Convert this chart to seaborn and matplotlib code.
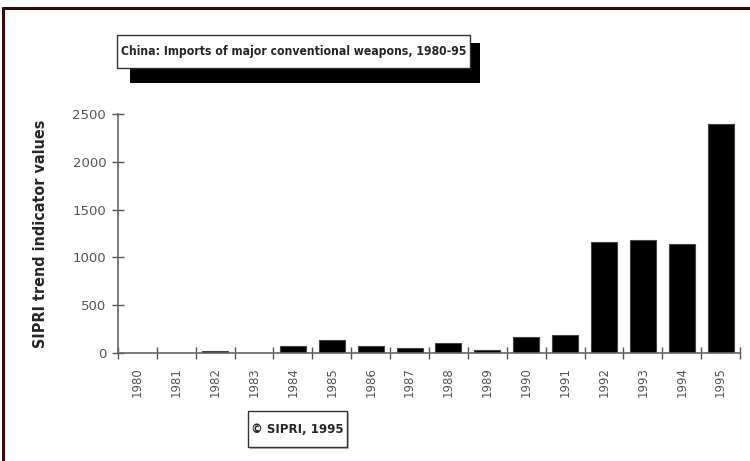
import matplotlib
matplotlib.use("Agg")
import matplotlib.pyplot as plt
import seaborn as sns
import pandas as pd
from matplotlib.lines import Line2D
from matplotlib.patches import Rectangle

years = ['1980', '1981', '1982', '1983', '1984', '1985', '1986', '1987',
         '1988', '1989', '1990', '1991', '1992', '1993', '1994', '1995']
values = [0, 0, 20, 0, 70, 140, 75, 55, 105, 35, 165, 190, 1160, 1185, 1135, 2400]
yticks = [0, 500, 1000, 1500, 2000, 2500]

title = 'China: Imports of major conventional weapons, 1980-95'
ylabel = 'SIPRI trend indicator values'
credit = '\u00a9 SIPRI, 1995'

df = pd.DataFrame({'year': years, 'value': values})

sns.set_style('white')
plt.rcParams['font.family'] = ['DejaVu Sans']

fig = plt.figure(figsize=(7.5, 4.61), dpi=100)
ax = fig.add_axes([0.1573, 0.2343, 0.8294, 0.5184])

sns.barplot(data=df, x='year', y='value', color='black', width=0.67,
            edgecolor='#444444', linewidth=0.8, saturation=1, ax=ax)

ax.set_xlim(-0.5, len(years) - 0.5)
ax.set_ylim(0, 2500)
ax.set_yticks(yticks)
ax.set_yticklabels([str(t) for t in yticks], fontsize=9.5, color='#555555')
ax.set_xticks(range(len(years)))
ax.set_xticklabels(years, rotation=90, fontsize=8.5, color='#555555')
ax.set_xticks([i - 0.5 for i in range(len(years) + 1)], minor=True)
ax.tick_params(bottom=True, left=True, which='both')
ax.tick_params(axis='x', which='major', length=0, pad=10)
ax.tick_params(axis='x', which='minor', direction='inout', length=9, width=1, color='#555555')
ax.tick_params(axis='y', which='major', direction='inout', length=9, width=1, color='#555555', pad=4)

for side in ['top', 'right']:
    ax.spines[side].set_visible(False)
for side in ['left', 'bottom']:
    ax.spines[side].set_color('#666666')
    ax.spines[side].set_linewidth(1.2)

ax.set_xlabel('')
ax.set_ylabel(ylabel, fontsize=11.5, fontweight='bold', stretch='condensed')
ax.yaxis.set_label_coords(-0.112, 0.5)

# outer frame (top and left edges)
fig.add_artist(Line2D([0.004, 0.004], [0, 0.983], transform=fig.transFigure,
                      color='#3a0808', linewidth=2.2))
fig.add_artist(Line2D([0.004, 1.0], [0.983, 0.983], transform=fig.transFigure,
                      color='#3a0808', linewidth=2.2))

# title box with drop shadow
fig.add_artist(Rectangle((130 / 750, 1 - 83 / 461), 350 / 750, 40 / 461,
                         transform=fig.transFigure, facecolor='black', edgecolor='none'))
fig.add_artist(Rectangle((117 / 750, 1 - 68 / 461), 353 / 750, 33 / 461,
                         transform=fig.transFigure, facecolor='white', edgecolor='#333333',
                         linewidth=1))
t = fig.text(293.5 / 750, 1 - 51.5 / 461, title, ha='center', va='center',
             fontsize=10.5, fontweight='bold', stretch='condensed')

# shrink title until it fits inside its box
fig.canvas.draw()
w = t.get_window_extent().width
if w > 346:
    t.set_fontsize(10.5 * 346 / w)

# credit box
fig.add_artist(Rectangle((250 / 750, 1 - 449 / 461), 99 / 750, 36 / 461,
                         transform=fig.transFigure, facecolor='#bbbbbb', edgecolor='none'))
fig.add_artist(Rectangle((248 / 750, 1 - 447 / 461), 99 / 750, 36 / 461,
                         transform=fig.transFigure, facecolor='white', edgecolor='#333333',
                         linewidth=1))
c = fig.text(297.5 / 750, 1 - 429 / 461, credit, ha='center', va='center',
             fontsize=10, fontweight='bold', stretch='condensed')
fig.canvas.draw()
w = c.get_window_extent().width
if w > 92:
    c.set_fontsize(10 * 92 / w)

fig.savefig('out.png', dpi=100)
